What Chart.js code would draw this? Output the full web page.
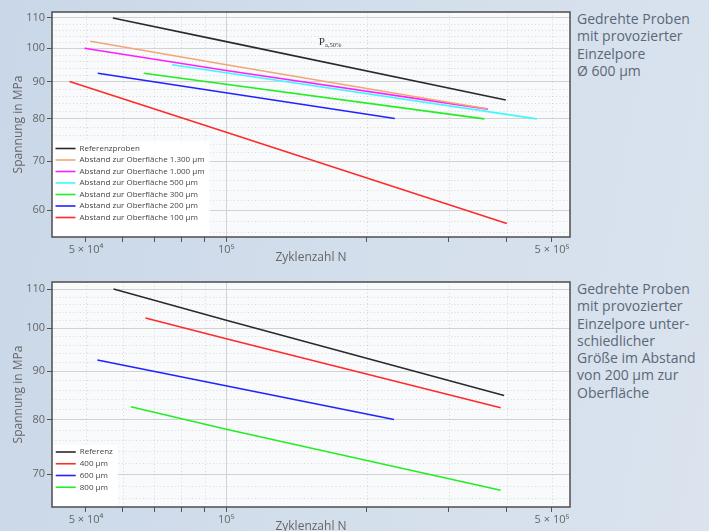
<!DOCTYPE html>
<html><head><meta charset="utf-8">
<script src="https://cdn.jsdelivr.net/npm/chart.js@4.4.1/dist/chart.umd.min.js"></script>
<style>
html,body{margin:0;padding:0;}
body{width:709px;height:531px;overflow:hidden;position:relative;background:linear-gradient(100deg,#c9d7e8 0%,#d4dfec 55%,#dae3ee 100%);font-family:"Open Sans",sans-serif;}
.box{position:absolute;left:0;}
canvas{display:block;}
.side{position:absolute;left:577px;color:#5b6776;font-size:14px;line-height:17.3px;white-space:nowrap;}
</style></head><body>
<div class="box" style="top:0"><canvas id="c1" width="575" height="265"></canvas></div>
<div class="box" style="top:270px"><canvas id="c2" width="575" height="264"></canvas></div>
<div class="side" style="top:10px">Gedrehte Proben<br>mit provozierter<br>Einzelpore<br>Ø 600 µm</div>
<div class="side" style="top:280px">Gedrehte Proben<br>mit provozierter<br>Einzelpore unter-<br>schiedlicher<br>Größe im Abstand<br>von 200 µm zur<br>Oberfläche</div>
<script>
// ---------- data: top chart ----------
const topLabels = ['Referenzproben','Abstand zur Oberfläche 1.300 µm','Abstand zur Oberfläche 1.000 µm','Abstand zur Oberfläche 500 µm','Abstand zur Oberfläche 300 µm','Abstand zur Oberfläche 200 µm','Abstand zur Oberfläche 100 µm'];
const topRefN  = [57100, 100000, 398000]; const topRefS  = [110, 102.1, 84.9];
const top1300N = [51100, 100000, 362000]; const top1300S = [102.2, 94.9, 82.6];
const top1000N = [49600, 100000, 364000]; const top1000S = [100, 93.2, 82.5];
const top500N  = [76500, 464000];         const top500S  = [94.9, 80.0];
const top300N  = [66500, 358000];         const top300S  = [92.4, 80.0];
const top200N  = [53000, 230000];         const top200S  = [92.4, 80.1];
const top100N  = [46100, 100000, 400000]; const top100S  = [90.0, 76.7, 57.5];
// ---------- data: bottom chart ----------
const botLabels = ['Referenz','400 µm','600 µm','800 µm'];
const botRefN = [57300, 100000, 394700]; const botRefS = [110, 101.9, 84.8];
const bot400N = [67100, 100000, 388000]; const bot400S = [102.5, 97.4, 82.3];
const bot600N = [52900, 229000];         const bot600S = [92.5, 80.0];
const bot800N = [62400, 100000, 388000]; const bot800S = [82.5, 78.1, 67.3];
// ---------- ticks ----------
const cycleTicks = [50000,60000,70000,80000,90000,100000,200000,300000,400000,500000];
const cycleTickLabels = {50000:'5 × 10⁴', 100000:'10⁵', 500000:'5 × 10⁵'};
const cycleMinorGrid = [50000,60000,70000,80000,90000,200000,300000,400000,500000];
const stressTicksTop = [60,70,80,90,100,110];
const stressTicksBottom = [70,80,90,100,110];
const stressMinorGrid = [56,58,62,64,66,68,72,74,76,78,82,84,86,88,92,94,96,98,102,104,106,108,112];
const annotText = ['P','a,50%']; const annotN = 158000; const annotS = 101.05;

const colors = {ref:'#2a2a2a', o:'#f2a676', m:'#ff1eff', c:'#3ff8ff', g:'#22ee22', b:'#2222ff', r:'#ff2a2a'};
function pts(n, s){ return n.map((v,i)=>({x:v, y:s[i]})); }
function ds(label, n, s, color){ return {label, data: pts(n,s), borderColor: color, backgroundColor: color, borderWidth: 1.6, pointRadius: 0, tension: 0, fill: false}; }

const framePlugin = {
  id: 'frame',
  beforeDraw(chart){
    const {ctx, chartArea:a} = chart;
    ctx.save(); ctx.fillStyle = '#f9fafc'; ctx.fillRect(a.left, a.top, a.right-a.left, a.bottom-a.top); ctx.restore();
  },
  beforeDatasetsDraw(chart){
    const {ctx, chartArea:a, scales} = chart;
    ctx.save(); ctx.strokeStyle = 'rgba(150,150,160,0.32)'; ctx.lineWidth = 1; ctx.setLineDash([1,2.5]);
    stressMinorGrid.forEach(v=>{ const y = Math.round(scales.y.getPixelForValue(v))+0.5; if (y<=a.top||y>=a.bottom) return; ctx.beginPath(); ctx.moveTo(a.left,y); ctx.lineTo(a.right,y); ctx.stroke(); });
    cycleMinorGrid.forEach(v=>{ const x = Math.round(scales.x.getPixelForValue(v))+0.5; if (x<=a.left||x>=a.right) return; ctx.beginPath(); ctx.moveTo(x,a.top); ctx.lineTo(x,a.bottom); ctx.stroke(); });
    ctx.restore();
  },
  afterDatasetsDraw(chart){
    const {ctx, chartArea:a} = chart;
    const lg = chart.legend;
    if (lg && lg.legendHitBoxes && lg.legendHitBoxes.length){
      let r = 0, t = 1e9;
      lg.legendHitBoxes.forEach(h=>{ r = Math.max(r, h.left + h.width); t = Math.min(t, h.top); });
      ctx.save(); ctx.fillStyle = '#ffffff'; ctx.fillRect(a.left+1, t-3, r + 4 - a.left, a.bottom - t + 2); ctx.restore();
      lg.draw();
    }
    const opt = chart.options.plugins.frame || {};
    if (opt.annot){
      const x = chart.scales.x.getPixelForValue(annotN), y = chart.scales.y.getPixelForValue(annotS);
      ctx.save(); ctx.fillStyle = '#333'; ctx.textBaseline = 'alphabetic';
      ctx.font = '11px "Liberation Serif", serif'; ctx.fillText(annotText[0], x, y);
      const w = ctx.measureText(annotText[0]).width;
      ctx.font = '6.5px "Liberation Serif", serif'; ctx.fillText(annotText[1], x + w, y + 2);
      ctx.restore();
    }
  },
  afterDraw(chart){
    const {ctx, chartArea:a} = chart;
    ctx.save(); ctx.strokeStyle = '#4e4e4e'; ctx.lineWidth = 1.5; ctx.strokeRect(a.left, a.top, a.right-a.left, a.bottom-a.top); ctx.restore();
  }
};

function makeChart(id, datasets, yMin, yMax, yTicks, xAxisH, legendPad, annot){
  return new Chart(document.getElementById(id), {
    type: 'line',
    data: { datasets },
    plugins: [framePlugin],
    options: {
      responsive: false, animation: false, devicePixelRatio: 1,
      layout: { padding: { left: 0, top: 12, right: 5, bottom: 0 } },
      plugins: {
        tooltip: { enabled: false },
        frame: { annot },
        legend: {
          position: 'chartArea', align: 'end',
          labels: { usePointStyle: true, pointStyle: 'line', pointStyleWidth: 20, boxWidth: 20, padding: legendPad, color: '#444', font: { family: '"Open Sans", sans-serif', size: 8 } }
        }
      },
      scales: {
        x: {
          type: 'logarithmic', min: 42270, max: 546600, bounds: 'data',
          afterBuildTicks: (s) => { s.ticks = cycleTicks.map(v => ({ value: v })); },
          afterFit: (s) => { s.height = xAxisH; },
          ticks: { autoSkip: false, maxRotation: 0, minRotation: 0, padding: 1, color: '#666', font: { family: '"Open Sans", sans-serif', size: 11 }, major: { enabled: false },
                   callback: (v) => cycleTickLabels[v] || '' },
          grid: { color: (c) => (c.tick && c.tick.value === 100000) ? '#d2d2d2' : 'rgba(0,0,0,0)', tickColor: '#555', tickLength: 5, lineWidth: 1 },
          border: { display: false },
          title: { display: true, text: 'Zyklenzahl N', color: '#666', font: { family: '"Open Sans", sans-serif', size: 12 }, padding: { top: 0, bottom: 0 } }
        },
        y: {
          type: 'logarithmic', min: yMin, max: yMax, bounds: 'data',
          afterBuildTicks: (s) => { s.ticks = yTicks.map(v => ({ value: v })); },
          afterFit: (s) => { s.width = 52; },
          ticks: { autoSkip: false, padding: 2, color: '#666', font: { family: '"Open Sans", sans-serif', size: 11 }, major: { enabled: false }, callback: (v) => String(v) },
          grid: { color: '#d2d2d2', tickColor: '#555', tickLength: 5, lineWidth: 1 },
          border: { display: false },
          title: { display: true, text: 'Spannung in MPa', color: '#666', font: { family: '"Open Sans", sans-serif', size: 12 }, padding: { top: 11, bottom: 0 } }
        }
      }
    }
  });
}

makeChart('c1', [
  ds(topLabels[0], topRefN, topRefS, colors.ref),
  ds(topLabels[1], top1300N, top1300S, colors.o),
  ds(topLabels[2], top1000N, top1000S, colors.m),
  ds(topLabels[3], top500N, top500S, colors.c),
  ds(topLabels[4], top300N, top300S, colors.g),
  ds(topLabels[5], top200N, top200S, colors.b),
  ds(topLabels[6], top100N, top100S, colors.r)
], 55.1, 112.1, stressTicksTop, 28, 3.5, true);

makeChart('c2', [
  ds(botLabels[0], botRefN, botRefS, colors.ref),
  ds(botLabels[1], bot400N, bot400S, colors.r),
  ds(botLabels[2], bot600N, bot600S, colors.b),
  ds(botLabels[3], bot800N, bot800S, colors.g)
], 64.6, 111.9, stressTicksBottom, 27, 3.75, false);
</script>
</body></html>
